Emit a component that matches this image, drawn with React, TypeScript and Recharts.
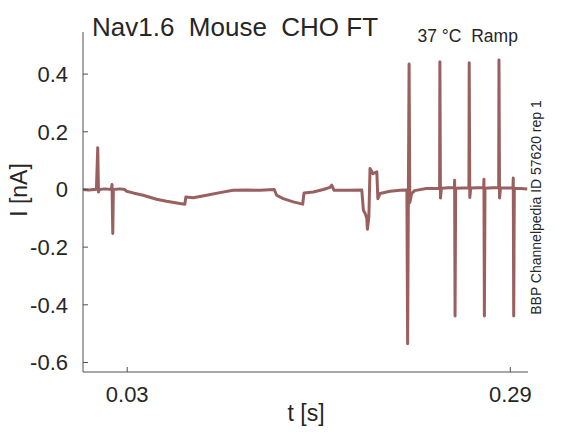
import { CartesianGrid, Line, LineChart, XAxis, YAxis } from "recharts"

// ramp protocol trace
const time = [
    0.0, 0.004, 0.0091, 0.01, 0.0105, 0.011, 0.015, 0.0193, 0.0197, 0.0202, 0.0206, 0.025,
    0.0283, 0.0295, 0.034, 0.0408, 0.0499, 0.0567, 0.0657, 0.0691, 0.0698, 0.0748, 0.0839,
    0.0929, 0.1019, 0.111, 0.1201, 0.1298, 0.1314, 0.1359, 0.1427, 0.1491, 0.15, 0.1563,
    0.1631, 0.1677, 0.1688, 0.1704, 0.179, 0.1892, 0.1903, 0.1916, 0.1926, 0.193, 0.194,
    0.1948, 0.1967, 0.1994, 0.2001, 0.2016, 0.2084, 0.2152, 0.2198, 0.2203, 0.2208, 0.2213,
    0.2218, 0.223, 0.225, 0.233, 0.242, 0.2422, 0.2426, 0.2432, 0.248, 0.252, 0.2522, 0.2525,
    0.2529, 0.258, 0.2619, 0.2621, 0.2625, 0.2631, 0.268, 0.2719, 0.2721, 0.2724, 0.2728,
    0.278, 0.2821, 0.2823, 0.2827, 0.2833, 0.288, 0.2918, 0.292, 0.2923, 0.2927, 0.297, 0.3015,
]

const current = [
    0.0, -0.002, 0.001, 0.145, -0.009, 0.0, 0.002, 0.0, 0.017, -0.153, 0.0, 0.002,
    0.0, -0.006, -0.012, -0.02, -0.034, -0.041, -0.049, -0.051, -0.026, -0.029, -0.02,
    -0.011, -0.003, -0.002, -0.003, 0.0, -0.02, -0.032, -0.043, -0.051, -0.012, -0.009,
    0.0, 0.007, 0.015, -0.003, -0.003, -0.002, -0.072, -0.084, -0.101, -0.138, -0.095,
    0.073, 0.055, 0.061, -0.032, -0.014, -0.006, -0.003, -0.002, -0.535, -0.03, 0.435,
    -0.045, -0.015, -0.004, 0.003, 0.004, 0.443, -0.03, 0.004, 0.006, 0.006, 0.032, -0.439,
    0.004, 0.005, 0.005, 0.439, -0.028, 0.005, 0.006, 0.006, 0.035, -0.439, 0.004,
    0.006, 0.006, 0.449, -0.03, 0.005, 0.005, 0.005, 0.04, -0.439, 0.004, 0.003, 0.002,
]

const xTicks = [0.03, 0.29]
const yTicks = [-0.6, -0.4, -0.2, 0, 0.2, 0.4]

const data = time.map((t, i) => ({ t, current: current[i] }))

const font = "'Liberation Sans', Arial, Helvetica, sans-serif"
const axisColor = "#505050"
const textColor = "#262626"
const traceColor = "#9a6060"

const App = () => {
    return (
        <div style={{ position: "absolute", left: 0, top: 0, width: 583, height: 438, background: "#fff" }}>
            <LineChart
                width={583}
                height={438}
                data={data}
                margin={{ top: 32, right: 55, bottom: 0, left: 0 }}
            >
                <CartesianGrid stroke="none" />
                <XAxis
                    dataKey="t"
                    type="number"
                    domain={[0, 0.302]}
                    allowDataOverflow
                    ticks={xTicks}
                    tickFormatter={(v) => String(v)}
                    height={66}
                    tickSize={-5}
                    tickMargin={19}
                    stroke={axisColor}
                    tick={{ fill: textColor, fontSize: 22, fontFamily: font }}
                />
                <YAxis
                    type="number"
                    domain={[-0.633, 0.546]}
                    allowDataOverflow
                    ticks={yTicks}
                    tickFormatter={(v) => String(v)}
                    width={83}
                    tickSize={-5}
                    tickMargin={20}
                    stroke={axisColor}
                    tick={{ fill: textColor, fontSize: 22, fontFamily: font }}
                />
                <Line
                    dataKey="current"
                    type="linear"
                    stroke={traceColor}
                    strokeWidth={3}
                    strokeLinejoin="round"
                    dot={false}
                    activeDot={false}
                    isAnimationActive={false}
                />
            </LineChart>
            <svg
                width={583}
                height={438}
                style={{ position: "absolute", left: 0, top: 0, pointerEvents: "none" }}
                fontFamily={font}
                fill={textColor}
            >
                <text x={92} y={36.3} fontSize={26} style={{ whiteSpace: "pre" }} xmlSpace="preserve">
                    Nav1.6  Mouse  CHO FT
                </text>
                <text x={417.5} y={42.3} fontSize={17.5} style={{ whiteSpace: "pre" }} xmlSpace="preserve">
                    37 °C  Ramp
                </text>
                <text x={306} y={421} fontSize={23} textAnchor="middle">
                    t [s]
                </text>
                <text x={27} y={190} fontSize={23} textAnchor="middle" transform="rotate(-90 27 190)">
                    I [nA]
                </text>
                <text x={541} y={207.5} fontSize={14} textAnchor="middle" transform="rotate(-90 541 207.5)">
                    BBP Channelpedia ID 57620 rep 1
                </text>
            </svg>
        </div>
    )
}

export default App
